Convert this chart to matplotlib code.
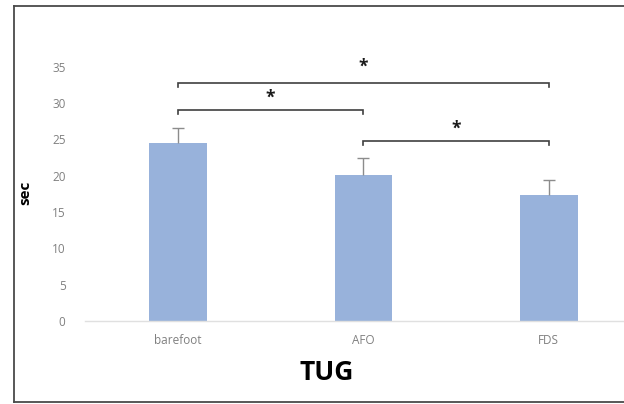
import numpy as np
import matplotlib
matplotlib.use('Agg')
import matplotlib.pyplot as plt
from matplotlib.lines import Line2D

# data
conditions = ['barefoot', 'AFO', 'FDS']
means = [24.5, 20.1, 17.3]
sds = [2.1, 2.3, 2.1]
# significance brackets: (from, to, height, star height)
brackets = [(0, 2, 32.8, 35.0), (0, 1, 29.1, 30.8), (1, 2, 24.8, 26.5)]
yticks = [0, 5, 10, 15, 20, 25, 30, 35]

plt.rcParams['font.family'] = ['Open Sans', 'DejaVu Sans']

fig = plt.figure(figsize=(6.24, 4.04), dpi=100)
W, H = 624, 404
ax = fig.add_axes([85 / W, 1 - 321 / H, (624 - 85) / W, 281 / H])

x = np.arange(len(conditions))
ax.bar(x, means, width=0.31, color='#98b2db', zorder=2)
eb = ax.errorbar(x, means, yerr=[np.zeros(len(means)), sds], fmt='none',
                 ecolor='#8c8c8c', elinewidth=1, capsize=4, capthick=1, zorder=3)
# only the upper cap, like the original
eb[1][0].set_visible(False)

for a, b, h, s in brackets:
    ax.plot([a, a, b, b], [h - 0.6, h, h, h - 0.6], color='#3f3f3f', lw=1.2,
            solid_joinstyle='miter', zorder=4)
    ax.text((a + b) / 2, s, '*', ha='center', va='center', fontsize=12.5,
            fontweight='bold', color='#1a1a1a')

ax.set_xlim(-0.5, 2.405)
ax.set_ylim(0, 38.7)
ax.set_yticks(yticks)
ax.set_xticks(x)
ax.set_xticklabels(conditions)
ax.tick_params(axis='both', length=0, labelsize=8.5, labelcolor='#808080')
ax.tick_params(axis='y', pad=14)
ax.tick_params(axis='x', pad=9)
for side in ['top', 'right', 'left']:
    ax.spines[side].set_visible(False)
ax.spines['bottom'].set_color('#e0e0e0')
ax.spines['bottom'].set_linewidth(1)

fig.text(25 / W, 1 - 193 / H, 'sec', rotation=90, ha='center', va='center',
         fontsize=11, fontweight='bold')
fig.text(327 / W, 1 - 372 / H, 'TUG', ha='center', va='center',
         fontsize=19, fontweight='bold')

# outer frame (left, top, bottom)
fc = '#4a4a4a'
fig.add_artist(Line2D([13.5 / W, 13.5 / W], [1 - 5.5 / H, 1 - 402 / H], color=fc, lw=1.3))
fig.add_artist(Line2D([13.5 / W, 1], [1 - 5.5 / H, 1 - 5.5 / H], color=fc, lw=1.3))
fig.add_artist(Line2D([13.5 / W, 1], [1 - 402 / H, 1 - 402 / H], color=fc, lw=1.3))

fig.savefig('out.png', dpi=100)
